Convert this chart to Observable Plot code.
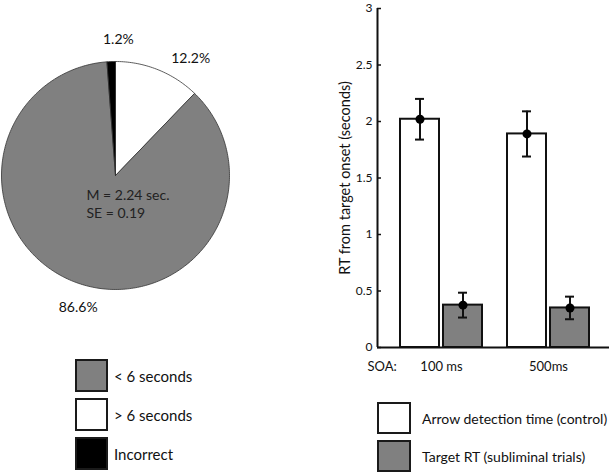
<!DOCTYPE html>
<html><head><meta charset="utf-8">
<script src="https://cdn.jsdelivr.net/npm/d3@7"></script>
<script src="https://cdn.jsdelivr.net/npm/@observablehq/plot@0.6"></script>
<style>
html,body{margin:0;padding:0;background:#fff;overflow:hidden;}
body{width:609px;height:474px;position:relative;font-family:Lato,"Open Sans",sans-serif;color:#111;}
.abs{position:absolute;}
.leg{position:absolute;display:flex;flex-direction:column;}
.row{display:flex;align-items:center;}
.sw{box-sizing:border-box;border:2px solid #1a1a1a;}
</style></head>
<body>
<div id="pie" class="abs" style="left:0;top:0"></div>
<div id="bars" class="abs" style="left:290px;top:0"></div>
<div id="leg1" class="leg" style="left:75px;top:359px;gap:6px;font-size:15px"></div>
<div id="leg2" class="leg" style="left:377px;top:402px;gap:6px;font-size:14px"></div>
<script>
// ---- pie data ----
const pieCategories = ["> 6 seconds", "< 6 seconds", "Incorrect"]; // clockwise from top
const pieValues = [12.2, 86.6, 1.2];
const pieLabels = ["12.2%", "86.6%", "1.2%"];
const pieColors = ["#ffffff", "#808080", "#000000"];
const legendCategories = ["< 6 seconds", "> 6 seconds", "Incorrect"];
const pieNote = "M = 2.24 sec.\nSE = 0.19";

// ---- bar data ----
const soaGroups = ["100 ms", "500ms"];
const seriesNames = ["Arrow detection time (control)", "Target RT (subliminal trials)"];
const controlMeans = [2.02, 1.89];
const controlErr = [0.18, 0.20];
const targetMeans = [0.375, 0.35];
const targetErr = [0.11, 0.10];
const yTicks = [0, 0.5, 1, 1.5, 2, 2.5, 3];
const seriesColors = ["#ffffff", "#808080"];
const yLabel = "RT from target onset (seconds)";

const FONT = "Lato, 'Open Sans', sans-serif";

// ---------- PIE ----------
{
  const R = 114, CX = 115, CY = 175, W = 240, H = 330;
  const arcs = d3.pie().sort(null).value(d => d)(pieValues);
  const pts = [];
  arcs.forEach((a, k) => {
    const n = Math.max(2, Math.ceil((a.endAngle - a.startAngle) / (Math.PI / 180)));
    pts.push({k, x: 0, y: 0});
    for (let i = 0; i <= n; i++) {
      const t = a.startAngle + (a.endAngle - a.startAngle) * i / n;
      pts.push({k, x: Math.sin(t), y: Math.cos(t)});
    }
    pts.push({k, x: 0, y: 0});
  });
  // label placement nudges (pixels) relative to mid-angle anchor
  const labelNudge = [[24, 10], [9, 3], [8, 1]];
  const labels = arcs.map((a, k) => {
    const m = (a.startAngle + a.endAngle) / 2;
    return {k, text: pieLabels[k],
      x: 1.2 * Math.sin(m) + labelNudge[k][0] / R,
      y: 1.2 * Math.cos(m) - labelNudge[k][1] / R};
  });
  const marks = pieCategories.map((c, k) =>
    Plot.line(pts.filter(p => p.k === k), {x: "x", y: "y", fill: pieColors[k], stroke: "#333", strokeWidth: 0.8, curve: "linear"})
  );
  marks.push(Plot.text(labels, {x: "x", y: "y", text: "text", fontSize: 14, fill: "#111"}));
  marks.push(Plot.text([pieNote], {x: () => 0, y: () => 0, text: d => d, textAnchor: "start",
    dx: -29, dy: 28, fontSize: 14, lineHeight: 1.3, fill: "#222"}));
  const svg = Plot.plot({
    width: W, height: H, margin: 0,
    style: {fontFamily: FONT, background: "transparent", overflow: "visible"},
    x: {domain: [-CX / R, (W - CX) / R], axis: null},
    y: {domain: [(CY - H) / R, CY / R], axis: null},
    marks
  });
  document.getElementById("pie").append(svg);
}

// ---------- BARS ----------
{
  const W = 319, H = 400, mL = 87, mT = 8, mB = 53;
  const unit = 107; // px per group step
  const g0 = 441 - 290; // first group center within plot
  const xmin = (mL - g0) / unit, xmax = (W - g0) / unit;
  const off = 21.5 / unit, hw = 19.5 / unit, cap = 4.5 / unit;
  const bars = [];
  soaGroups.forEach((g, i) => {
    bars.push({g: i, s: 0, v: controlMeans[i], e: controlErr[i]});
    bars.push({g: i, s: 1, v: targetMeans[i], e: targetErr[i]});
  });
  const cx = d => d.g + (d.s === 0 ? -off : off);
  const svg = Plot.plot({
    width: W, height: H, marginLeft: mL, marginRight: 0, marginTop: mT, marginBottom: mB,
    style: {fontFamily: FONT, background: "transparent", overflow: "visible", fontSize: "12px"},
    x: {domain: [xmin, xmax], axis: null},
    y: {domain: [0, 3], axis: null},
    marks: [
      Plot.rectY(bars, {x1: d => cx(d) - hw, x2: d => cx(d) + hw, y: "v",
        fill: d => seriesColors[d.s], stroke: "#111", strokeWidth: 2}),
      Plot.ruleX(bars, {x: cx, y1: d => d.v - d.e, y2: d => d.v + d.e, stroke: "#111", strokeWidth: 2}),
      Plot.ruleY(bars, {y: d => d.v + d.e, x1: d => cx(d) - cap, x2: d => cx(d) + cap, stroke: "#111", strokeWidth: 2}),
      Plot.ruleY(bars, {y: d => d.v - d.e, x1: d => cx(d) - cap, x2: d => cx(d) + cap, stroke: "#111", strokeWidth: 2}),
      Plot.dot(bars, {x: cx, y: "v", r: 4.5, fill: "#000", stroke: null}),
      Plot.ruleY([0], {stroke: "#111", strokeWidth: 2}),
      Plot.ruleX([xmin], {y1: 0, y2: 3, stroke: "#111", strokeWidth: 2}),
      Plot.ruleY(yTicks, {y: d => d, x1: xmin, x2: xmin + 4 / unit, stroke: "#111", strokeWidth: 1.5}),
      Plot.axisY({ticks: yTicks, tickSize: 0, tickPadding: 5, tickFormat: d => String(d), label: null, fontSize: 12}),
      Plot.text([yLabel], {frameAnchor: "left", text: d => d, textAnchor: "middle", rotate: -90, dx: -32, fontSize: 14.5, fill: "#111"}),
      Plot.text(soaGroups, {x: (d, i) => i, text: d => d, frameAnchor: "bottom", dy: 23, fontSize: 13, fill: "#111"}),
      Plot.text(["SOA:"], {frameAnchor: "bottom-left", text: d => d, textAnchor: "start", dx: -10, dy: 23, fontSize: 13, fill: "#111"})
    ]
  });
  document.getElementById("bars").append(svg);
}

// ---------- LEGENDS ----------
function legend(el, names, colors, w, h, gap) {
  names.forEach((n, i) => {
    const row = document.createElement("div");
    row.className = "row";
    const sw = document.createElement("div");
    sw.className = "sw";
    sw.style.width = w + "px"; sw.style.height = h + "px"; sw.style.background = colors[i];
    const t = document.createElement("span");
    t.textContent = n; t.style.marginLeft = gap + "px";
    row.append(sw, t);
    el.append(row);
  });
}
legend(document.getElementById("leg1"), legendCategories,
  legendCategories.map(c => pieColors[pieCategories.indexOf(c)]), 33, 33, 6);
legend(document.getElementById("leg2"), seriesNames, seriesColors, 34, 32, 11);
</script>
</body></html>
